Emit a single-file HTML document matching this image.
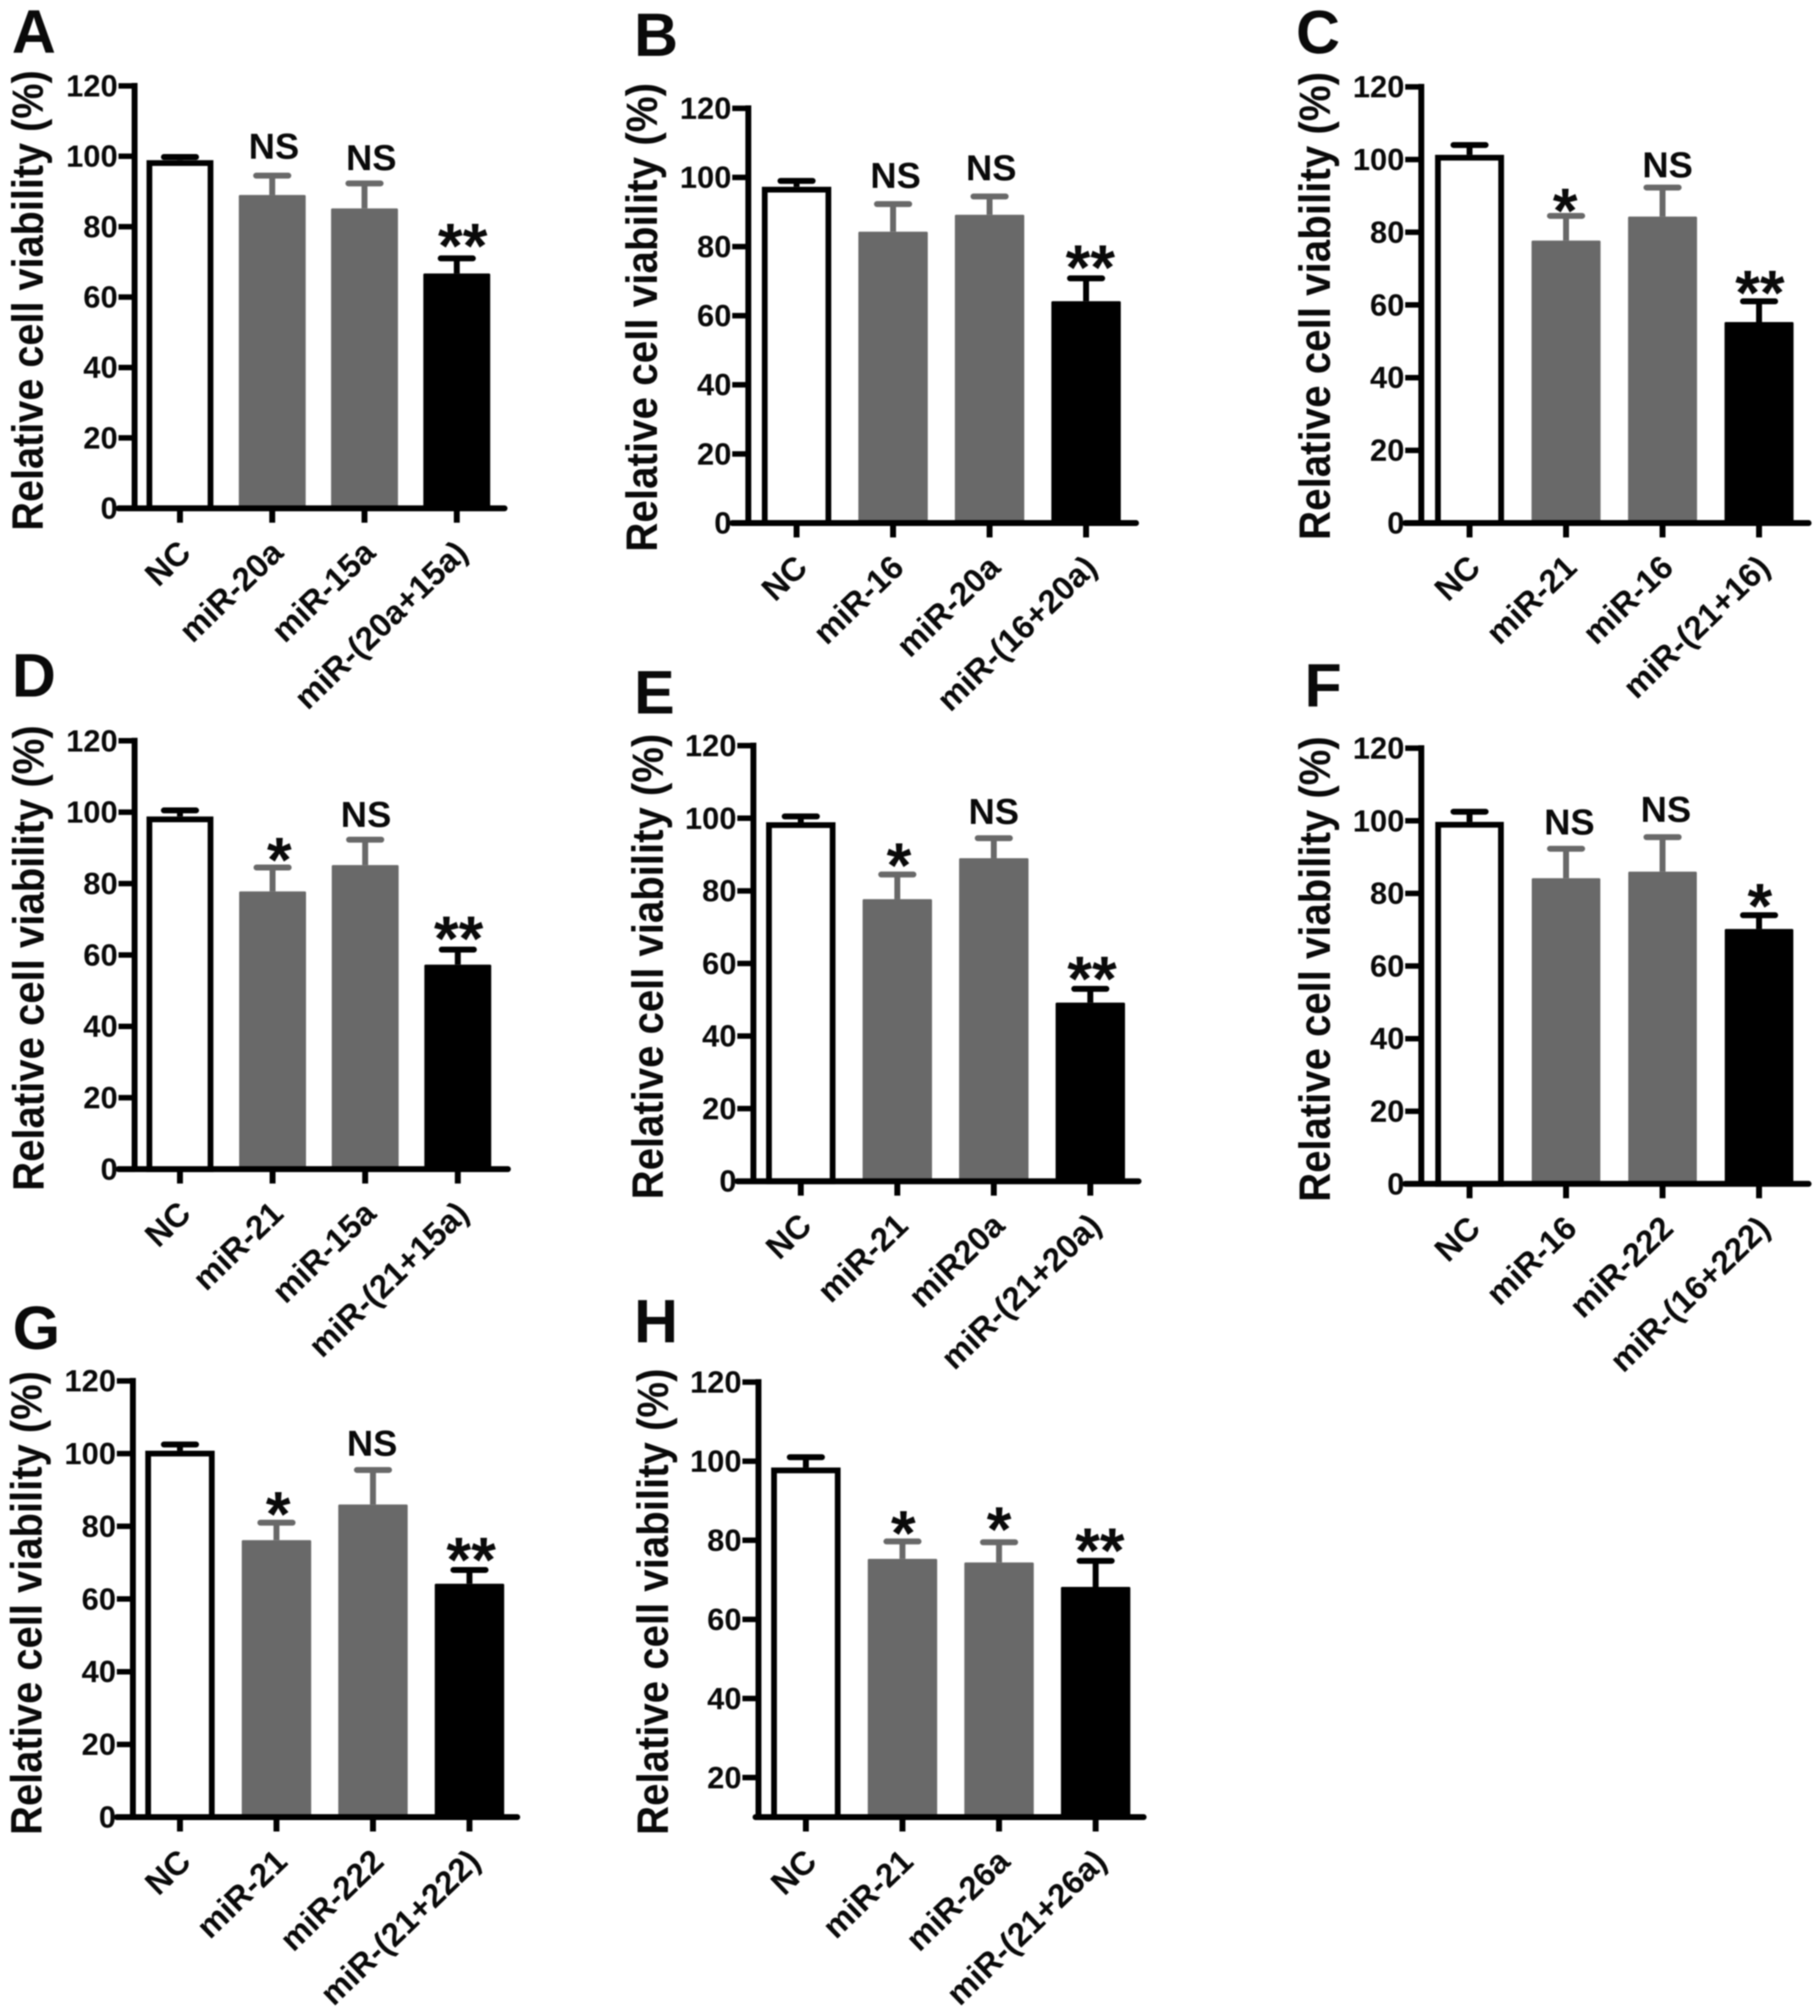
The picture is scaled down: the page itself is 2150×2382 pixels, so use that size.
<!DOCTYPE html>
<html lang="en">
<head>
<meta charset="utf-8">
<title>Relative cell viability panels</title>
<style>
html,body{margin:0;padding:0;background:#fff;width:2150px;height:2382px;overflow:hidden}
svg{display:block;filter:blur(0.8px)}
text{font-family:"Liberation Sans",sans-serif;font-weight:bold;fill:#0a0a0a}
</style>
</head>
<body>
<svg id="figure" xmlns="http://www.w3.org/2000/svg" width="2150" height="2382" viewBox="0 0 2150 2382"></svg>
<script>
// ---- chart data ----
const yTicksStandard = [0, 20, 40, 60, 80, 100, 120];
const yTicksPanelH = [20, 40, 60, 80, 100, 120];

const categoriesA = ['NC', 'miR-20a', 'miR-15a', 'miR-(20a+15a)'];
const valuesA = [98.9, 89, 85.2, 66.7];
const errorTopsA = [99.8, 94.5, 92.3, 71];
const marksA = ['', 'NS', 'NS', '**'];

const categoriesB = ['NC', 'miR-16', 'miR-20a', 'miR-(16+20a)'];
const valuesB = [97.3, 84.3, 89.2, 64.2];
const errorTopsB = [99, 92.3, 94.5, 70.8];
const marksB = ['', 'NS', 'NS', '**'];

const categoriesC = ['NC', 'miR-21', 'miR-16', 'miR-(21+16)'];
const valuesC = [101.3, 77.7, 84.3, 55.3];
const errorTopsC = [104, 84.5, 92.3, 61];
const marksC = ['', '*', 'NS', '**'];

const categoriesD = ['NC', 'miR-21', 'miR-15a', 'miR-(21+15a)'];
const valuesD = [98.8, 77.8, 85.2, 57.3];
const errorTopsD = [100.5, 84.5, 92.3, 61.5];
const marksD = ['', '*', 'NS', '**'];

const categoriesE = ['NC', 'miR-21', 'miR20a', 'miR-(21+20a)'];
const valuesE = [98.9, 77.7, 89, 49.2];
const errorTopsE = [100.5, 84.5, 94.5, 53];
const marksE = ['', '*', 'NS', '**'];

const categoriesF = ['NC', 'miR-16', 'miR-222', 'miR-(16+222)'];
const valuesF = [99.7, 84.2, 86, 70.2];
const errorTopsF = [102.5, 92.3, 95.5, 74];
const marksF = ['', 'NS', 'NS', '*'];

const categoriesG = ['NC', 'miR-21', 'miR-222', 'miR-(21+222)'];
const valuesG = [100.8, 76.2, 86, 64.2];
const errorTopsG = [102.5, 81, 95.5, 68];
const marksG = ['', '*', 'NS', '**'];

const categoriesH = ['NC', 'miR-21', 'miR-26a', 'miR-(21+26a)'];
const valuesH = [98.4, 75.3, 74.4, 68.2];
const errorTopsH = [101, 79.7, 79.5, 74.8];
const marksH = ['', '*', '*', '**'];

// ---- panel layout (pixels, separate from data) ----
const panels = [
  {id:'A', cats:categoriesA, vals:valuesA, errs:errorTopsA, marks:marksA, ticks:yTicksStandard, min:0,
   axisX:159, top:101.5, base:600.6, right:596, first:212.6, step:109, barW:79,
   letterX:14, letterY:62, titleX:50.5, titleBottom:627, titleLen:544, markDx:[0,2,8,7], markGap:[0,20,15.5,18]},
  {id:'B', cats:categoriesB, vals:valuesB, errs:errorTopsB, marks:marksB, ticks:yTicksStandard, min:0,
   axisX:884, top:128, base:618, right:1342, first:941, step:114, barW:82,
   letterX:749, letterY:66, titleX:776, titleBottom:652, titleLen:554, markDx:[0,3,2,5], markGap:[0,19,19,16]},
  {id:'C', cats:categoriesC, vals:valuesC, errs:errorTopsC, marks:marksC, ticks:yTicksStandard, min:0,
   axisX:1679, top:102.6, base:618, right:2136.5, first:1736, step:114, barW:81.5,
   letterX:1531, letterY:63, titleX:1571, titleBottom:638, titleLen:553, markDx:[0,-1,6,1], markGap:[0,9,12,13]},
  {id:'D', cats:categoriesD, vals:valuesD, errs:errorTopsD, marks:marksD, ticks:yTicksStandard, min:0,
   axisX:159, top:875.3, base:1381.4, right:600, first:212.6, step:109.4, barW:79,
   letterX:14, letterY:823, titleX:51.4, titleBottom:1407, titleLen:550, markDx:[0,8,1,1], markGap:[0,12,15,16]},
  {id:'E', cats:categoriesE, vals:valuesE, errs:errorTopsE, marks:marksE, ticks:yTicksStandard, min:0,
   axisX:890, top:881, base:1395.7, right:1345, first:946, step:114, barW:82,
   letterX:749, letterY:843, titleX:783, titleBottom:1417, titleLen:550, markDx:[0,2,0,2], markGap:[0,14,17,15]},
  {id:'F', cats:categoriesF, vals:valuesF, errs:errorTopsF, marks:marksF, ticks:yTicksStandard, min:0,
   axisX:1679, top:884, base:1398.8, right:2136.5, first:1736, step:114, barW:81,
   letterX:1541, letterY:835, titleX:1571, titleBottom:1420, titleLen:550, markDx:[0,4,4,1], markGap:[0,17,18,14]},
  {id:'G', cats:categoriesG, vals:valuesG, errs:errorTopsG, marks:marksG, ticks:yTicksStandard, min:0,
   axisX:157, top:1631.6, base:2147, right:611, first:212.6, step:114, barW:82,
   letterX:15, letterY:1594, titleX:49, titleBottom:2168, titleLen:548, markDx:[0,2,-1,2], markGap:[0,13,17,15]},
  {id:'H', cats:categoriesH, vals:valuesH, errs:errorTopsH, marks:marksH, ticks:yTicksPanelH, min:10,
   axisX:896, top:1633, base:2147, right:1351, first:952, step:114.1, barW:82,
   letterX:749, letterY:1586, titleX:789, titleBottom:2168, titleLen:551, markDx:[0,1,0,5], markGap:[0,13,18,15]}
];

const GRAY = '#696969';
const BLACK = '#000000';
const NS = 'http://www.w3.org/2000/svg';
const svg = document.getElementById('figure');

function make(tag, parent, attrs, content) {
  const el = document.createElementNS(NS, tag);
  for (const k in attrs) el.setAttribute(k, attrs[k]);
  if (content !== undefined) el.textContent = content;
  parent.appendChild(el);
  return el;
}

function drawPanel(p) {
  const key = p.id.toLowerCase();
  const yScale = v => p.base - (v - p.min) / (120 - p.min) * (p.base - p.top);
  const xScale = i => p.first + i * p.step;

  const g = make('g', svg, {});
  
  

  const letter = make('text', g, {x:p.letterX, y:p.letterY, 'font-size':72}, p.id);
  
  

  const title = make('text', g, {
    transform:'translate(' + p.titleX + ',' + p.titleBottom + ') rotate(-90)',
    'font-size':52, textLength:p.titleLen, lengthAdjust:'spacingAndGlyphs'
  }, 'Relative cell viability (%)');
  
  

  p.vals.forEach((v, i) => {
    const cx = xScale(i);
    const topY = yScale(v);
    const capY = yScale(p.errs[i]);
    const color = i === 1 || i === 2 ? GRAY : BLACK;

    const stem = make('line', g, {x1:cx, x2:cx, y1:topY, y2:capY, stroke:color, 'stroke-width':7});
    
    

    const cap = make('line', g, {x1:cx - 19, x2:cx + 19, y1:capY, y2:capY, stroke:color, 'stroke-width':7, 'stroke-linecap':'round'});
    
    

    let bar;
    if (i === 0) {
      bar = make('rect', g, {x:cx - p.barW / 2 + 3.4, y:topY + 3.4, width:p.barW - 6.8, height:p.base - topY - 3.4, fill:'#fff', stroke:'#000', 'stroke-width':6.8});
    } else {
      bar = make('rect', g, {x:cx - p.barW / 2, y:topY, width:p.barW, height:p.base - topY, fill:color, rx:1.5});
    }
    
    

    const mark = p.marks[i];
    if (mark) {
      const isStar = mark.charAt(0) === '*';
      const mt = make('text', g, {
        x:cx + p.markDx[i], y:isStar ? capY - p.markGap[i] + 29 : capY - p.markGap[i],
        'font-size':isStar ? 75 : 43, 'text-anchor':'middle'
      }, mark);
      
      
    }

    const tick = make('line', g, {x1:cx, x2:cx, y1:p.base, y2:p.base + 17, stroke:'#000', 'stroke-width':7});
    
    

    const lx = cx + 15;
    const ly = p.base + 55;
    const label = make('text', g, {
      x:lx, y:ly, 'font-size':39, 'text-anchor':'end',
      transform:'rotate(-44 ' + lx + ' ' + ly + ')'
    }, p.cats[i]);
    
    
  });

  const yAxis = make('line', g, {x1:p.axisX, x2:p.axisX, y1:p.top - 3.5, y2:p.base, stroke:'#000', 'stroke-width':7});
  
  

  const xStart = p.min === 0 ? p.axisX - 19 : p.axisX - 3.5;
  const xAxis = make('line', g, {x1:xStart, x2:p.right, y1:p.base, y2:p.base, stroke:'#000', 'stroke-width':7, 'stroke-linecap':'round'});
  
  

  p.ticks.forEach(t => {
    const y = yScale(t);
    const tl = make('line', g, {x1:p.axisX - 19, x2:p.axisX, y1:y, y2:y, stroke:'#000', 'stroke-width':6.5});
    
    

    const tt = make('text', g, {x:p.axisX - 20, y:y + 12.5, 'font-size':36.5, 'text-anchor':'end'}, String(t));
    
    
  });
}

panels.forEach(drawPanel);
</script>
</body>
</html>
